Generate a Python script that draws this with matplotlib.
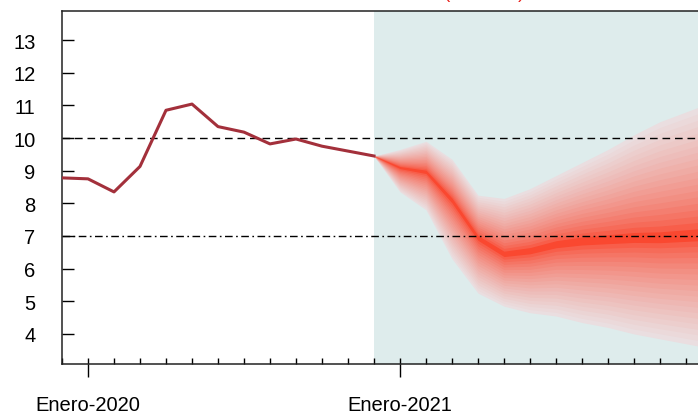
import numpy as np
import matplotlib
matplotlib.use("Agg")
import matplotlib.pyplot as plt

plt.rcParams['font.family'] = ['Liberation Sans', 'DejaVu Sans']

# meses contados desde enero-2020 (0 = Enero-2020)
hist_meses = list(range(-1, 12))
hist_vals = [8.78, 8.75, 8.35, 9.13, 10.85, 11.04, 10.35, 10.18, 9.82, 9.97, 9.75, 9.60, 9.45]

proy_meses = list(range(11, 25))
proy_centro = [9.45, 9.10, 8.97, 8.10, 6.95, 6.45, 6.55, 6.75, 6.85, 6.90, 6.95, 6.95, 7.00, 7.05]
proy_sup = [9.45, 9.65, 9.90, 9.35, 8.25, 8.15, 8.45, 8.85, 9.25, 9.65, 10.10, 10.50, 10.80, 11.10]
proy_inf = [9.45, 8.35, 7.80, 6.30, 5.25, 4.85, 4.65, 4.55, 4.35, 4.20, 4.00, 3.85, 3.70, 3.55]

etiquetas_x = ['Enero-2020', 'Enero-2021']
pos_etiquetas = [0, 12]
meta_sup = 10
meta = 7

fig = plt.figure(figsize=(6.98, 4.14), dpi=100)
ax = fig.add_axes([62 / 698, 49 / 414, 650 / 698, 353 / 414])
ax.set_xlim(-0.92, 24.0)
ax.set_ylim(3.08, 13.89)

# zona de proyeccion
ax.axvspan(11, 30, color='#deecec', zorder=0, lw=0)

# abanico
xc = np.array(proy_meses)
c = np.array(proy_centro)
up = np.array(proy_sup)
lo = np.array(proy_inf)
n = 20
c_in = np.array([250, 72, 48]) / 255
c_out = np.array([234, 222, 224]) / 255
for k in range(n - 1, -1, -1):
    t = (k / (n - 1)) ** 0.65
    col = c_in * (1 - t) + c_out * t
    f = (k + 1) / n
    ax.fill_between(xc, c - f * (c - lo), c + f * (up - c), color=col, lw=0, zorder=1)

# historico
ax.plot(hist_meses, hist_vals, color='#a3303b', lw=2.2, zorder=3)

ax.axhline(meta_sup, color='black', lw=1, ls=(0, (5.5, 3.5)), zorder=2)
ax.axhline(meta, color='black', lw=1, ls=(0, (5.5, 2.5, 1.2, 2.5)), zorder=2)

for s in ['left', 'bottom', 'top']:
    ax.spines[s].set_linewidth(1.1)
    ax.spines[s].set_color('#222222')
ax.spines['right'].set_visible(False)

ax.set_yticks(range(4, 14))
ax.tick_params(axis='y', direction='in', length=8.5, width=1, pad=19, labelsize=14.5)
ax.set_xticks(pos_etiquetas)
ax.set_xticklabels(etiquetas_x)
ax.set_xticks(range(-1, 25), minor=True)
ax.xaxis.remove_overlapping_locs = False
ax.tick_params(axis='x', which='major', direction='out', length=9.5, width=1, pad=13, labelsize=14.5)
ax.tick_params(axis='x', which='minor', direction='in', length=4.3, width=1)

fig.text(0.693, 1.0 + 2.5 / 414, '(% anual)', color='#e8201a', fontsize=13.5,
         ha='center', va='baseline')

fig.savefig('out.png', dpi=100)
